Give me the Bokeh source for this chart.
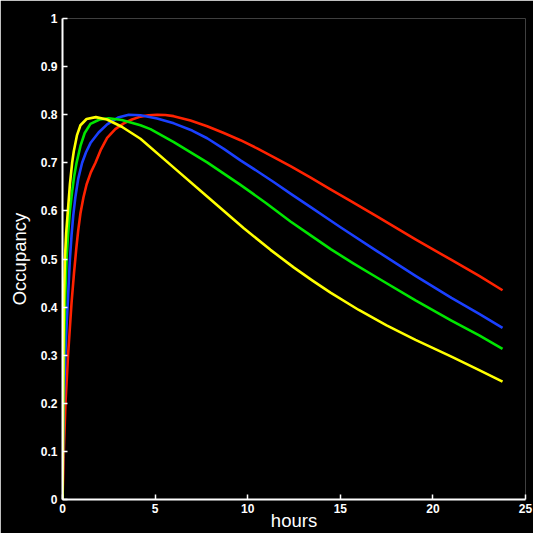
from bokeh.plotting import figure
from bokeh.models import Range1d, FixedTicker
from bokeh.embed import file_html
from bokeh.resources import INLINE

# hours / occupancy
red_h = [0, 0.08, 0.16, 0.3, 0.49, 0.62, 0.74, 0.85, 0.97, 1.13, 1.3, 1.53, 1.78, 2.08, 2.41, 2.85,
         3.31, 3.75, 4.21, 4.65, 5.11, 5.55, 6.0, 6.91, 7.81, 8.71, 9.61, 10.51, 11.4, 12.31,
         13.4, 14.47, 15.5, 17.0, 19.06, 21.0, 22.5, 23.76]
red_v = [0, 0.11, 0.20, 0.30, 0.41, 0.47, 0.52, 0.56, 0.595, 0.628, 0.655, 0.68, 0.70, 0.728,
         0.752, 0.770, 0.782, 0.790, 0.796, 0.799, 0.800, 0.7995, 0.797, 0.788, 0.776, 0.762,
         0.747, 0.730, 0.712, 0.693, 0.669, 0.645, 0.622, 0.588, 0.541, 0.498, 0.465, 0.435]

blue_h = [0, 0.03, 0.07, 0.15, 0.22, 0.29, 0.40, 0.49, 0.58, 0.7, 0.85, 1.06, 1.27, 1.51, 1.95,
          2.41, 3.0, 3.58, 4.21, 5.11, 6.01, 7.0, 7.81, 8.71, 9.61, 10.5, 11.4, 12.31, 13.4,
          14.47, 15.01, 17.0, 19.06, 21.0, 22.5, 23.76]
blue_v = [0, 0.10, 0.20, 0.30, 0.36, 0.414, 0.50, 0.55, 0.59, 0.63, 0.667, 0.70, 0.722, 0.741,
          0.763, 0.780, 0.794, 0.800, 0.799, 0.792, 0.782, 0.767, 0.751, 0.729, 0.705, 0.683,
          0.660, 0.636, 0.608, 0.580, 0.566, 0.516, 0.465, 0.419, 0.386, 0.357]

green_h = [0, 0.02, 0.04, 0.08, 0.14, 0.22, 0.30, 0.40, 0.52, 0.63, 0.76, 0.97, 1.2, 1.51, 2.0,
           2.5, 3.2, 4.21, 4.75, 6.01, 7.81, 9.61, 11.0, 12.31, 13.4, 14.5, 15.7, 17.0, 19.06,
           21.0, 22.5, 23.76]
green_v = [0, 0.10, 0.20, 0.30, 0.414, 0.50, 0.55, 0.60, 0.64, 0.672, 0.70, 0.735, 0.762, 0.781,
           0.790, 0.7927, 0.789, 0.778, 0.770, 0.743, 0.701, 0.654, 0.616, 0.578, 0.549, 0.520,
           0.491, 0.461, 0.414, 0.372, 0.341, 0.313]

yellow_h = [0, 0.015, 0.03, 0.05, 0.08, 0.13, 0.2, 0.29, 0.4, 0.52, 0.61, 0.78, 0.97, 1.3, 1.8,
            2.4, 3.2, 4.21, 6.01, 7.81, 9.79, 11.23, 12.5, 13.5, 14.47, 16.0, 17.5, 19.06, 21.0,
            22.5, 23.76]
yellow_v = [0, 0.10, 0.20, 0.30, 0.414, 0.50, 0.555, 0.60, 0.655, 0.70, 0.724, 0.757, 0.778,
            0.791, 0.795, 0.790, 0.775, 0.750, 0.690, 0.630, 0.564, 0.519, 0.482, 0.455, 0.430,
            0.394, 0.362, 0.332, 0.297, 0.269, 0.245]

x_ticks = [0, 5, 10, 15, 20, 25]
x_labels = ["0", "5", "10", "15", "20", "25"]
y_ticks = [0, 0.1, 0.2, 0.3, 0.4, 0.5, 0.6, 0.7, 0.8, 0.9, 1]
y_labels = ["0", "0.1", "0.2", "0.3", "0.4", "0.5", "0.6", "0.7", "0.8", "0.9", "1"]

p = figure(width=533, height=533, x_range=Range1d(0, 25), y_range=Range1d(0, 1),
           output_backend="svg", toolbar_location=None,
           background_fill_color="black", border_fill_color="black",
           outline_line_color=None,
           min_border_left=62, min_border_right=8, min_border_top=18, min_border_bottom=34)
p.grid.visible = False

series = [(red_h, red_v, "#ff2200"), (blue_h, blue_v, "#1a40ff"),
          (green_h, green_v, "#00e600"), (yellow_h, yellow_v, "#ffff00")]
for hx, vy, col in series:
    p.line(hx, vy, line_color=col, line_width=2.6, line_join="round")

for ax in (p.xaxis[0], p.yaxis[0]):
    ax.axis_line_color = "white"
    ax.axis_line_width = 2
    ax.major_tick_line_color = "white"
    ax.major_tick_line_width = 1.5
    ax.major_tick_in = 5
    ax.major_tick_out = 0
    ax.minor_tick_line_color = None
    ax.major_label_text_color = "white"
    ax.major_label_text_font = "Liberation Sans"
    ax.major_label_text_font_style = "bold"
    ax.major_label_text_font_size = "12px"
    ax.axis_label_text_color = "white"
    ax.axis_label_text_font = "Liberation Sans"
    ax.axis_label_text_font_style = "normal"
    ax.axis_label_text_font_size = "18.5px"

p.xaxis[0].ticker = FixedTicker(ticks=x_ticks)
p.xaxis[0].major_label_overrides = {t: l for t, l in zip(x_ticks, x_labels)}
p.yaxis[0].ticker = FixedTicker(ticks=y_ticks)
p.yaxis[0].major_label_overrides = {t: l for t, l in zip(y_ticks, y_labels)}
p.xaxis[0].axis_label = "hours"
p.yaxis[0].axis_label = "Occupancy"
p.xaxis[0].major_label_standoff = 4
p.xaxis[0].axis_label_standoff = -6
p.yaxis[0].major_label_standoff = 5
p.yaxis[0].axis_label_standoff = 8

open("out.html", "w").write(file_html(p, INLINE))
